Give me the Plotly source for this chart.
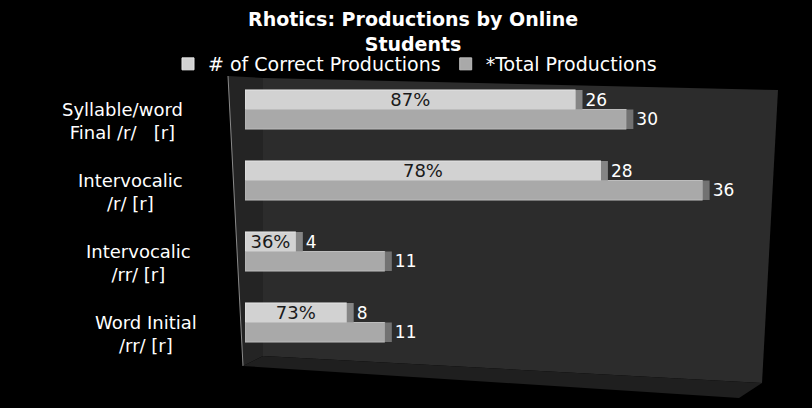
import plotly.graph_objects as go

# Data
categories = [
    "Syllable/word<br>Final /r/\u00a0\u00a0\u00a0[r]",
    "Intervocalic<br>/r/ [r]",
    "Intervocalic<br>/rr/ [r]",
    "Word Initial<br>/rr/ [r]",
]
cat_keys = ["syl_final_r", "interv_r", "interv_rr", "word_init_rr"]
correct = [26, 28, 4, 8]
total = [30, 36, 11, 11]
series_names = ["# of Correct Productions", "*Total Productions"]
title_lines = ["Rhotics: Productions by Online", "Students"]

pct_labels = [f"{round(c / t * 100)}%" for c, t in zip(correct, total)]

W, H = 812, 408
L, R, T, B = 245, 42, 74, 50
FONT = "DejaVu Sans"
CAP = 0.55  # depth of the shaded bar end, in axis units

fig = go.Figure()

# Front faces
fig.add_trace(go.Bar(
    y=cat_keys, x=correct, orientation="h", name=series_names[0],
    marker=dict(color="#d2d2d2", line=dict(color="#e6e6e6", width=1)),
    text=pct_labels, textposition="inside", insidetextanchor="middle",
    textfont=dict(family=FONT, size=18, color="#1a1a1a"),
    offsetgroup="a", legendrank=1,
))
fig.add_trace(go.Bar(
    y=cat_keys, x=total, orientation="h", name=series_names[1],
    marker=dict(color="#a9a9a9", line=dict(color="#bdbdbd", width=1)),
    offsetgroup="b", legendrank=2,
))

# Shaded ends of the bars carrying the value labels
fig.add_trace(go.Bar(
    y=cat_keys, x=[CAP] * len(correct), base=correct, orientation="h",
    marker=dict(color="#858585", line=dict(width=0)),
    text=[str(v) for v in correct], textposition="outside",
    textfont=dict(family=FONT, size=17, color="#ffffff"),
    offsetgroup="a", showlegend=False, hoverinfo="skip",
))
fig.add_trace(go.Bar(
    y=cat_keys, x=[CAP] * len(total), base=total, orientation="h",
    marker=dict(color="#727272", line=dict(width=0)),
    text=[str(v) for v in total], textposition="outside",
    textfont=dict(family=FONT, size=17, color="#ffffff"),
    offsetgroup="b", showlegend=False, hoverinfo="skip",
))


def px(xp):
    return (xp - L) / (W - L - R)


def py(yp):
    return (H - B - yp) / (H - T - B)


# Two-line bold title
fig.add_annotation(
    x=px(413), xref="paper", y=py(31), yref="paper",
    text="<b>" + "<br>".join(title_lines) + "</b>", showarrow=False,
    xanchor="center", yanchor="middle", align="center",
    font=dict(family=FONT, size=19, color="#ffffff"),
)

# Category labels, centred on their lines (drifting right with the perspective)
for i, (key, lab) in enumerate(zip(cat_keys, categories)):
    fig.add_annotation(
        x=px(122 + 8 * i), xref="paper", y=key, yref="y",
        text=lab, showarrow=False, xanchor="center", align="center",
        yshift=-11,
        font=dict(family=FONT, size=18, color="#ffffff"),
    )


def poly(points):
    return "M " + " L ".join(f"{px(a)},{py(b)}" for a, b in points) + " Z"


# 3-D frame: back wall, left side wall and floor
fig.add_shape(type="path", xref="paper", yref="paper", layer="below",
              path=poly([(263, 78), (778, 90), (762, 383), (263, 356)]),
              fillcolor="#2c2c2c", line=dict(width=0))
fig.add_shape(type="path", xref="paper", yref="paper", layer="below",
              path=poly([(228, 76), (263, 78), (263, 356), (243, 366)]),
              fillcolor="#242424", line=dict(width=0))
fig.add_shape(type="line", xref="paper", yref="paper", layer="below",
              x0=px(228), y0=py(76), x1=px(243), y1=py(366),
              line=dict(color="#8a8a8a", width=1))
fig.add_shape(type="path", xref="paper", yref="paper", layer="below",
              path=poly([(243, 366), (263, 356), (762, 383), (739, 398)]),
              fillcolor="#1f1f1f", line=dict(width=0))

fig.update_layout(
    width=W, height=H,
    margin=dict(l=L, r=R, t=T, b=B, autoexpand=False),
    paper_bgcolor="#000000", plot_bgcolor="rgba(0,0,0,0)",
    barmode="group", bargap=0.45, bargroupgap=0.0,
    uniformtext=dict(minsize=17, mode="show"),
    legend=dict(
        orientation="h", x=px(415), xanchor="center",
        y=py(64), yanchor="middle",
        font=dict(family=FONT, size=19, color="#ffffff"),
        bgcolor="rgba(0,0,0,0)", itemwidth=30, traceorder="normal",
    ),
    showlegend=True,
    xaxis=dict(range=[0, 41.3], showgrid=False, zeroline=False,
               showticklabels=False, ticks="", showline=False),
    yaxis=dict(type="category", autorange="reversed", showgrid=False,
               zeroline=False, showticklabels=False, ticks="", showline=False),
)

fig.write_html("out.html")
